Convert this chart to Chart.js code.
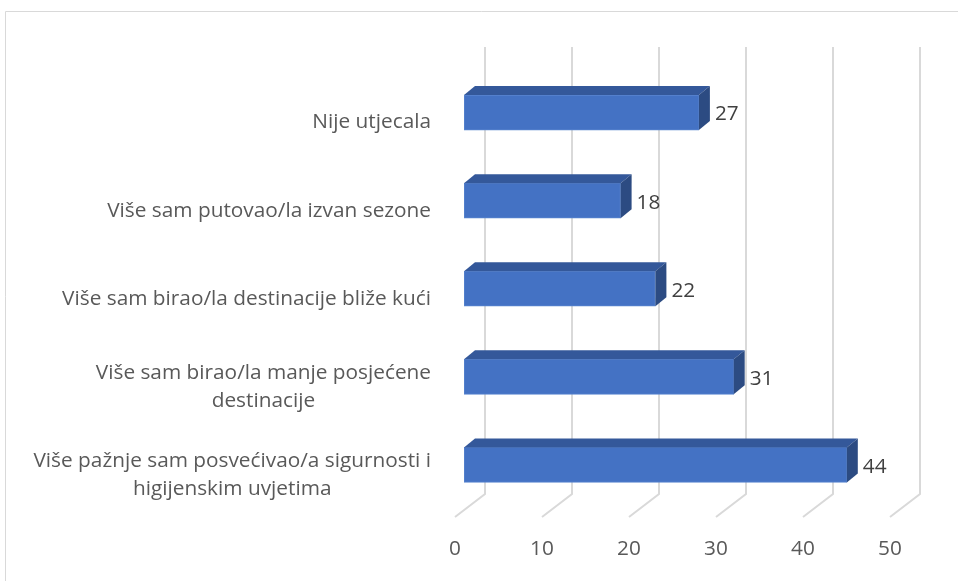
<!DOCTYPE html>
<html>
<head>
<meta charset="utf-8">
<script src="https://cdn.jsdelivr.net/npm/chart.js@4/dist/chart.umd.min.js"></script>
<style>
  html, body { margin: 0; padding: 0; background: #ffffff; }
  #wrap { position: relative; width: 958px; height: 581px; }
</style>
</head>
<body>
<div id="wrap"><canvas id="c" width="958" height="581"></canvas></div>
<script>
// Categories (top to bottom), each as an array of display lines
const categories = [
  ['Nije utjecala'],
  ['Više sam putovao/la izvan sezone'],
  ['Više sam birao/la destinacije bliže kući'],
  ['Više sam birao/la manje posjećene', 'destinacije'],
  ['Više pažnje sam posvećivao/a sigurnosti i', 'higijenskim uvjetima']
];
const counts = [27, 18, 22, 31, 44];
const xTicks = [0, 10, 20, 30, 40, 50];

const FONT = '"Open Sans", Lato, sans-serif';
const FONT_SIZE = 20.8;
const AXIS_TEXT = '#595959';
const VALUE_TEXT = '#404040';
const GRID = '#d9d9d9';

// 3D offsets
const BAR_DEPTH = { dx: 11, dy: -9 };
const WALL = { dx: 21, topGap: 21.5, bottomGap: 15 };
const FLOOR = { dx: -9, dy: 8 };

const framePlugin = {
  id: 'frame',
  beforeDraw(chart) {
    const ctx = chart.ctx;
    ctx.save();
    ctx.strokeStyle = '#d9d9d9';
    ctx.lineWidth = 1;
    ctx.beginPath();
    ctx.moveTo(5.5, 581);
    ctx.lineTo(5.5, 11.5);
    ctx.lineTo(958, 11.5);
    ctx.stroke();
    ctx.restore();
  }
};

// back wall and floor gridlines
const wallPlugin = {
  id: 'wall',
  beforeDatasetsDraw(chart) {
    const { ctx, chartArea } = chart;
    const xs = chart.scales.x;
    ctx.save();
    ctx.strokeStyle = GRID;
    ctx.lineWidth = 2;
    xTicks.forEach(v => {
      const px = xs.getPixelForValue(v);
      ctx.beginPath();
      ctx.moveTo(px + WALL.dx, chartArea.top - WALL.topGap);
      ctx.lineTo(px + WALL.dx, chartArea.bottom - WALL.bottomGap);
      ctx.lineTo(px + FLOOR.dx, chartArea.bottom + FLOOR.dy);
      ctx.stroke();
    });
    ctx.restore();
  }
};

// top and side faces of each bar, plus value labels
const barsPlugin = {
  id: 'bars3d',
  afterDatasetsDraw(chart) {
    const ctx = chart.ctx;
    const meta = chart.getDatasetMeta(0);
    ctx.save();
    meta.data.forEach((bar, i) => {
      const p = bar.getProps(['x', 'y', 'base', 'height'], true);
      const top = p.y - p.height / 2;
      const bottom = p.y + p.height / 2;
      const { dx, dy } = BAR_DEPTH;
      // top face
      ctx.fillStyle = '#34589a';
      ctx.beginPath();
      ctx.moveTo(p.base, top);
      ctx.lineTo(p.x, top);
      ctx.lineTo(p.x + dx, top + dy);
      ctx.lineTo(p.base + dx, top + dy);
      ctx.closePath();
      ctx.fill();
      // side face
      ctx.fillStyle = '#2c4b82';
      ctx.beginPath();
      ctx.moveTo(p.x, top);
      ctx.lineTo(p.x + dx, top + dy);
      ctx.lineTo(p.x + dx, bottom + dy);
      ctx.lineTo(p.x, bottom);
      ctx.closePath();
      ctx.fill();
      // value label
      ctx.fillStyle = VALUE_TEXT;
      ctx.font = FONT_SIZE + 'px ' + FONT;
      ctx.textAlign = 'left';
      ctx.textBaseline = 'middle';
      ctx.fillText(String(counts[i]), p.x + dx + 5, p.y + 2);
    });
    ctx.restore();
  }
};

// category labels: block right-aligned to the axis, lines centred within the block
const categoryPlugin = {
  id: 'categoryLabels',
  afterDraw(chart) {
    const { ctx, chartArea } = chart;
    const ys = chart.scales.y;
    const lineH = 28;
    ctx.save();
    ctx.font = FONT_SIZE + 'px ' + FONT;
    ctx.fillStyle = AXIS_TEXT;
    ctx.textAlign = 'center';
    ctx.textBaseline = 'middle';
    categories.forEach((lines, i) => {
      const yc = ys.getPixelForTick(i) + 10;
      const w = Math.max(...lines.map(l => ctx.measureText(l).width));
      const cx = chartArea.left - 33 - w / 2;
      const y0 = yc - (lines.length - 1) * lineH / 2;
      lines.forEach((l, j) => ctx.fillText(l, cx, y0 + j * lineH));
    });
    ctx.restore();
  }
};

new Chart(document.getElementById('c'), {
  type: 'bar',
  data: {
    labels: categories,
    datasets: [{
      data: counts,
      backgroundColor: '#4472c4',
      borderColor: '#5a86d0',
      borderWidth: 1,
      borderSkipped: false,
      barThickness: 35
    }]
  },
  options: {
    indexAxis: 'y',
    responsive: false,
    animation: false,
    devicePixelRatio: 1,
    layout: { padding: { top: 68.5, right: 59, bottom: 0, left: 0 } },
    plugins: { legend: { display: false }, tooltip: { enabled: false } },
    scales: {
      x: {
        type: 'linear',
        min: 0,
        max: 50,
        afterBuildTicks: s => { s.ticks = xTicks.map(v => ({ value: v })); },
        afterFit: s => { s.height = 72; },
        grid: { display: false, drawTicks: false },
        border: { display: false },
        ticks: {
          color: AXIS_TEXT,
          font: { family: FONT, size: FONT_SIZE },
          labelOffset: -9,
          padding: 28
        }
      },
      y: {
        type: 'category',
        afterFit: s => { s.width = 464; },
        grid: { display: false, drawTicks: false },
        border: { display: false },
        ticks: { display: false }
      }
    }
  },
  plugins: [framePlugin, wallPlugin, barsPlugin, categoryPlugin]
});
</script>
</body>
</html>
